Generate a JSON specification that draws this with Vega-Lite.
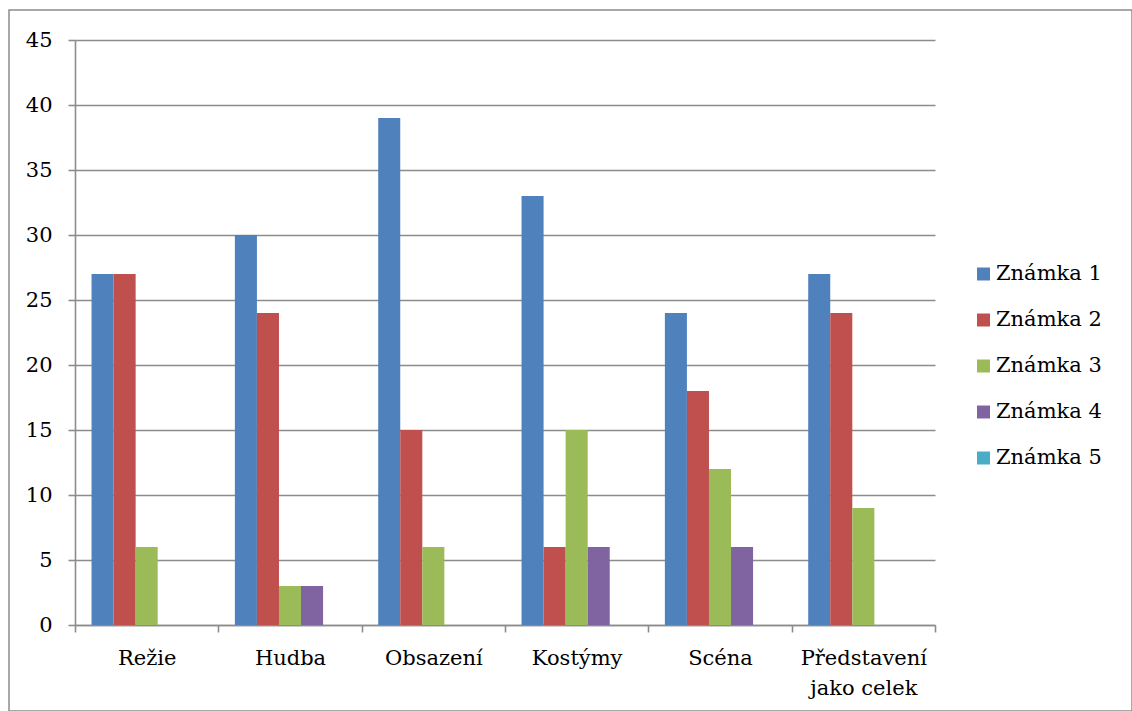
{
  "$schema": "https://vega.github.io/schema/vega-lite/v6.json",
  "width": 1123,
  "height": 701,
  "autosize": {"type": "none"},
  "padding": {"left": 9, "top": 10, "right": 0, "bottom": 0},
  "background": "white",
  "config": {
    "font": "DejaVu Serif",
    "view": {"stroke": "#8c8c8c", "strokeWidth": 1.5},
    "axis": {
      "labelFont": "DejaVu Serif",
      "labelColor": "black",
      "labelFontSize": 21,
      "domainColor": "#8c8c8c",
      "domainWidth": 1.6,
      "tickColor": "#8c8c8c",
      "tickWidth": 1.6,
      "gridColor": "#8c8c8c",
      "gridWidth": 1.6,
      "gridOpacity": 1,
      "title": null
    },
    "legend": {
      "labelFont": "DejaVu Serif",
      "labelFontSize": 21,
      "labelColor": "black"
    }
  },
  "data": {
    "values": [
      {"kategorie": "Režie", "serie": "Známka 1", "hodnota": 27},
      {"kategorie": "Režie", "serie": "Známka 2", "hodnota": 27},
      {"kategorie": "Režie", "serie": "Známka 3", "hodnota": 6},
      {"kategorie": "Režie", "serie": "Známka 4", "hodnota": 0},
      {"kategorie": "Režie", "serie": "Známka 5", "hodnota": 0},
      {"kategorie": "Hudba", "serie": "Známka 1", "hodnota": 30},
      {"kategorie": "Hudba", "serie": "Známka 2", "hodnota": 24},
      {"kategorie": "Hudba", "serie": "Známka 3", "hodnota": 3},
      {"kategorie": "Hudba", "serie": "Známka 4", "hodnota": 3},
      {"kategorie": "Hudba", "serie": "Známka 5", "hodnota": 0},
      {"kategorie": "Obsazení", "serie": "Známka 1", "hodnota": 39},
      {"kategorie": "Obsazení", "serie": "Známka 2", "hodnota": 15},
      {"kategorie": "Obsazení", "serie": "Známka 3", "hodnota": 6},
      {"kategorie": "Obsazení", "serie": "Známka 4", "hodnota": 0},
      {"kategorie": "Obsazení", "serie": "Známka 5", "hodnota": 0},
      {"kategorie": "Kostýmy", "serie": "Známka 1", "hodnota": 33},
      {"kategorie": "Kostýmy", "serie": "Známka 2", "hodnota": 6},
      {"kategorie": "Kostýmy", "serie": "Známka 3", "hodnota": 15},
      {"kategorie": "Kostýmy", "serie": "Známka 4", "hodnota": 6},
      {"kategorie": "Kostýmy", "serie": "Známka 5", "hodnota": 0},
      {"kategorie": "Scéna", "serie": "Známka 1", "hodnota": 24},
      {"kategorie": "Scéna", "serie": "Známka 2", "hodnota": 18},
      {"kategorie": "Scéna", "serie": "Známka 3", "hodnota": 12},
      {"kategorie": "Scéna", "serie": "Známka 4", "hodnota": 6},
      {"kategorie": "Scéna", "serie": "Známka 5", "hodnota": 0},
      {"kategorie": "Představení jako celek", "serie": "Známka 1", "hodnota": 27},
      {"kategorie": "Představení jako celek", "serie": "Známka 2", "hodnota": 24},
      {"kategorie": "Představení jako celek", "serie": "Známka 3", "hodnota": 9},
      {"kategorie": "Představení jako celek", "serie": "Známka 4", "hodnota": 0},
      {"kategorie": "Představení jako celek", "serie": "Známka 5", "hodnota": 0}
    ]
  },
  "mark": {"type": "bar"},
  "encoding": {
    "x": {
      "field": "kategorie",
      "type": "nominal",
      "sort": null,
      "scale": {"paddingInner": 0, "paddingOuter": 0, "range": [66, 926]},
      "axis": {
        "labelAngle": 0,
        "offset": -86,
        "tickBand": "extent",
        "tickSize": 7,
        "labelPadding": 15,
        "labelLineHeight": 30,
        "labelExpr": "datum.value == 'Představení jako celek' ? ['Představení', 'jako celek'] : datum.value"
      }
    },
    "xOffset": {
      "field": "serie",
      "type": "nominal",
      "scale": {"paddingInner": 0, "paddingOuter": 0.75}
    },
    "y": {
      "field": "hodnota",
      "type": "quantitative",
      "scale": {"domain": [0, 45], "nice": false, "range": [615, 30]},
      "axis": {
        "values": [0, 5, 10, 15, 20, 25, 30, 35, 40, 45],
        "offset": -66,
        "tickSize": 7,
        "labelPadding": 16,
        "grid": true
      }
    },
    "color": {
      "field": "serie",
      "type": "nominal",
      "scale": {
        "domain": ["Známka 1", "Známka 2", "Známka 3", "Známka 4", "Známka 5"],
        "range": ["#4F81BD", "#C0504D", "#9BBB59", "#8064A2", "#4BACC6"]
      },
      "legend": {
        "title": null,
        "orient": "none",
        "legendX": 964,
        "legendY": 253.5,
        "padding": 0,
        "symbolType": "square",
        "symbolSize": 169,
        "symbolStrokeWidth": 0,
        "symbolOpacity": 1,
        "labelOffset": 2,
        "rowPadding": 24
      }
    }
  }
}
